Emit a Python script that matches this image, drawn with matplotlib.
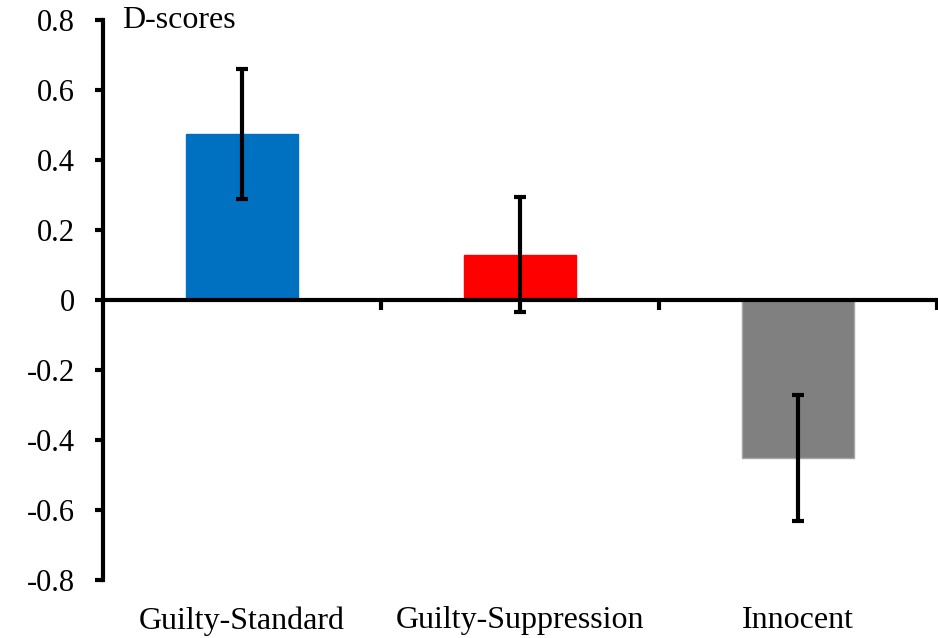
import matplotlib.pyplot as plt

plt.rcParams['font.family'] = ['Liberation Serif', 'DejaVu Serif']

groups = ['Guilty-Standard', 'Guilty-Suppression', 'Innocent']
d_scores = [0.475, 0.13, -0.45]
errors = [0.186, 0.165, 0.18]
bar_colors = ['#0070C0', '#FF0000', '#808080']
edge_colors = ['#0070C0', '#FF0000', '#A6A6A6']
y_ticks = [-0.8, -0.6, -0.4, -0.2, 0, 0.2, 0.4, 0.6, 0.8]
y_tick_labels = ['-0.8', '-0.6', '-0.4', '-0.2', '0', '0.2', '0.4', '0.6', '0.8']

fig = plt.figure(figsize=(9.38, 6.38), dpi=100)
ax = fig.add_axes([103 / 938, 1 - 580 / 638, 834 / 938, 560 / 638])

x = range(len(groups))
ax.bar(x, d_scores, width=0.4, color=bar_colors, edgecolor=edge_colors, linewidth=1, zorder=2)
ax.errorbar(x, d_scores, yerr=errors, fmt='none', ecolor='black', elinewidth=3,
            capsize=4.5, capthick=3, zorder=4)

ax.set_xlim(-0.5, 2.5)
ax.set_ylim(-0.8, 0.8)
ax.set_yticks(y_ticks)
ax.set_yticklabels(y_tick_labels, fontsize=22)
ax.set_xticks([0.5, 1.5, 2.5])
ax.set_xticklabels([])

for side in ['top', 'right']:
    ax.spines[side].set_visible(False)
ax.spines['bottom'].set_position(('data', 0))
ax.spines['bottom'].set_linewidth(3)
ax.spines['bottom'].set_zorder(3)
ax.spines['left'].set_linewidth(3)
ax.tick_params(axis='y', direction='out', length=6, width=3, pad=14)
ax.tick_params(axis='x', direction='out', length=7, width=3)

for i, name in enumerate(groups):
    ax.annotate(name, xy=(i, 0), xycoords=('data', 'axes fraction'),
                xytext=(0, -19), textcoords='offset points',
                ha='center', va='top', fontsize=23)

ax.text(0.023, 1.0, 'D-scores', transform=ax.transAxes, ha='left', va='center', fontsize=23)

fig.savefig('out.png', dpi=100)
